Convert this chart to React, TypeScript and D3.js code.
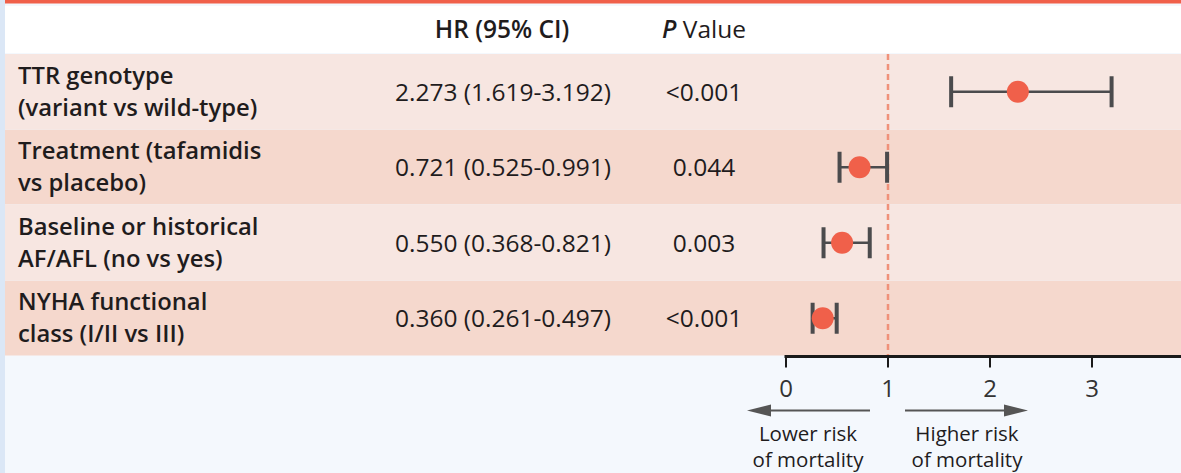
import React from "react";
import * as d3 from "d3";

const labelLine1 = ["TTR genotype", "Treatment (tafamidis", "Baseline or historical", "NYHA functional"];
const labelLine2 = ["(variant vs wild-type)", "vs placebo)", "AF/AFL (no vs yes)", "class (I/II vs III)"];
const hr = [2.273, 0.721, 0.55, 0.36];
const ciLow = [1.619, 0.525, 0.368, 0.261];
const ciHigh = [3.192, 0.991, 0.821, 0.497];
const pValues = ["<0.001", "0.044", "0.003", "<0.001"];
const xTicks = [0, 1, 2, 3];

const W = 1181;
const H = 473;
const FONT = "'Open Sans', 'Noto Sans', sans-serif";

export default function App() {
  const x = d3.scaleLinear().domain([0, 3]).range([786, 1092]);
  const rowTop = 54;
  const rowH = 75.5;
  const y = d3
    .scaleBand<number>()
    .domain(d3.range(hr.length))
    .range([rowTop, rowTop + rowH * hr.length])
    .paddingInner(0);
  const fmt = d3.format(".3f");
  const axisY = 356.5;
  const rowFill = ["#f7e6e1", "#f5d8cd"];
  const ink = "#4b4b4d";
  const dot = "#f0604a";
  const txt = "#1f1c1d";

  return (
    <div style={{ position: "absolute", left: 0, top: 0, width: W, height: H }}>
      <svg width={W} height={H} style={{ display: "block" }} fontFamily={FONT}>
        <rect x={0} y={0} width={W} height={H} fill="#f4f8fd" />
        <rect x={0} y={0} width={5} height={H} fill="#dbe7f6" />
        <rect x={5} y={0} width={W} height={3.5} fill="#f0604a" />
        <rect x={5} y={6} width={W} height={47} fill="#ffffff" />
        {hr.map((_, i) => (
          <rect
            key={"r" + i}
            x={5}
            y={y(i)!}
            width={W}
            height={y.bandwidth() - 0.5}
            fill={rowFill[i % 2]}
          />
        ))}
        <text x={502} y={38} textAnchor="middle" fontSize={24.5} fontWeight={600} fill={txt}>
          HR (95% CI)
        </text>
        <text x={704} y={38} textAnchor="middle" fontSize={24.5} fontWeight={500} fill={txt}>
          <tspan fontStyle="italic" fontWeight={600}>P</tspan> Value
        </text>
        {hr.map((v, i) => {
          const cy = y(i)! + y.bandwidth() / 2;
          return (
            <g key={"t" + i}>
              <text x={18} y={cy - 8} fontSize={23.8} fontWeight={600} fill={txt}>
                {labelLine1[i]}
              </text>
              <text x={18} y={cy + 24} fontSize={23.8} fontWeight={600} fill={txt}>
                {labelLine2[i]}
              </text>
              <text x={503} y={cy + 9} textAnchor="middle" fontSize={24.5} fill={txt}>
                {`${fmt(v)} (${fmt(ciLow[i])}-${fmt(ciHigh[i])})`}
              </text>
              <text x={704} y={cy + 9} textAnchor="middle" fontSize={24.5} fill={txt}>
                {pValues[i]}
              </text>
            </g>
          );
        })}
        <line
          x1={x(1)}
          x2={x(1)}
          y1={rowTop}
          y2={axisY}
          stroke="#f0917a"
          strokeWidth={2.5}
          strokeDasharray="6 4"
        />
        {hr.map((v, i) => {
          const cy = y(i)! + y.bandwidth() / 2;
          return (
            <g key={"m" + i}>
              <line x1={x(ciLow[i])} x2={x(ciHigh[i])} y1={cy} y2={cy} stroke={ink} strokeWidth={2.5} />
              <line x1={x(ciLow[i])} x2={x(ciLow[i])} y1={cy - 15.5} y2={cy + 15.5} stroke={ink} strokeWidth={4} />
              <line x1={x(ciHigh[i])} x2={x(ciHigh[i])} y1={cy - 15.5} y2={cy + 15.5} stroke={ink} strokeWidth={4} />
              <circle cx={x(v)} cy={cy} r={11} fill={dot} />
            </g>
          );
        })}
        <line x1={x(0) - 1.5} x2={W} y1={axisY} y2={axisY} stroke="#1a1a1a" strokeWidth={3} />
        {xTicks.map((t) => (
          <g key={"k" + t}>
            <line x1={x(t)} x2={x(t)} y1={axisY} y2={axisY + 11} stroke="#1a1a1a" strokeWidth={2} />
            <text x={x(t)} y={397} textAnchor="middle" fontSize={24} fill="#333">
              {t}
            </text>
          </g>
        ))}
        <line x1={870} x2={760} y1={410.5} y2={410.5} stroke="#555" strokeWidth={2} />
        <path d="M747,410.5 L771,404.5 L771,416.5 Z" fill="#555" />
        <line x1={905} x2={1015} y1={410.5} y2={410.5} stroke="#555" strokeWidth={2} />
        <path d="M1028,410.5 L1004,404.5 L1004,416.5 Z" fill="#555" />
        <text x={808} y={441} textAnchor="middle" fontSize={20.5} fontWeight={500} fill={txt}>Lower risk</text>
        <text x={808} y={467} textAnchor="middle" fontSize={20.5} fontWeight={500} fill={txt}>of mortality</text>
        <text x={967} y={441} textAnchor="middle" fontSize={20.5} fontWeight={500} fill={txt}>Higher risk</text>
        <text x={967} y={467} textAnchor="middle" fontSize={20.5} fontWeight={500} fill={txt}>of mortality</text>
      </svg>
    </div>
  );
}
